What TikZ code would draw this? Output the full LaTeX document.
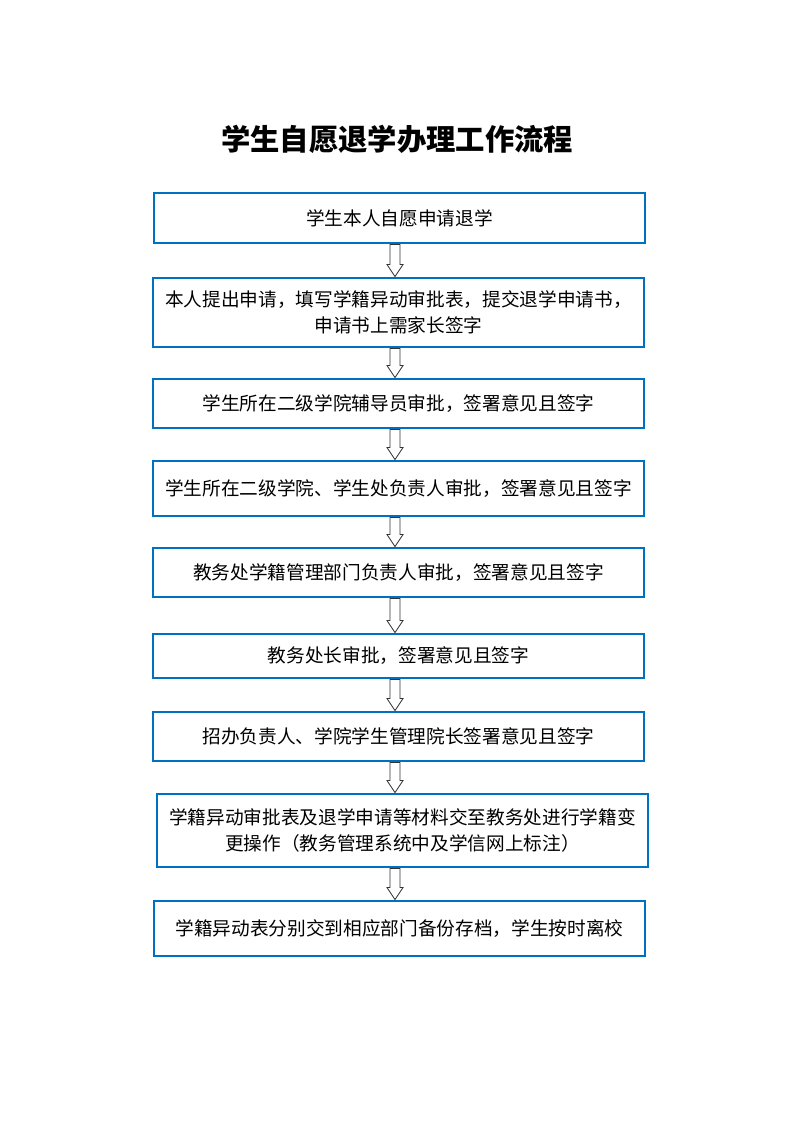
\documentclass[tikz,border=0pt]{standalone}
\usepackage{fontspec}
\newfontfamily\cjk{Noto Sans CJK SC}
\usetikzlibrary{calc}
\definecolor{bx}{RGB}{0,112,192}
\newcommand{\harr}[2]{%
\path let \p1=(#1.south), \p2=(#2.north), \p3=(395*0.75pt,0) in
 [draw=black!80, fill=white, line width=0.6pt]
 (\x3-3.75pt,\y1) -- (\x3+3.75pt,\y1) -- (\x3+3.75pt,\y2+9pt) -- (\x3+6pt,\y2+9pt)
 -- (\x3,\y2) -- (\x3-6pt,\y2+9pt) -- (\x3-3.75pt,\y2+9pt) -- cycle;}
\begin{document}
\begin{tikzpicture}[x=0.75pt,y=-0.75pt,
 bx/.style={draw=bx,line width=2.2pt,align=center,font=\cjk\fontsize{14}{19.5}\selectfont,inner sep=0pt}]
\useasboundingbox (0,0) rectangle (793,1122);
\node[font=\cjk\bfseries\fontsize{22}{26}\selectfont] (t) at (397,139) {学生自愿退学办理工作流程};
\newcommand{\bx}[6]{\node[bx,minimum width={(#3-#2)*0.75pt},minimum height={(#5-#4)*0.75pt}] (#1) at ({(#2+#3)/2},{(#4+#5)/2}) {#6};}
\bx{b1}{154}{645}{193}{243}{学生本人自愿申请退学}
\bx{b2}{153}{644}{278}{347}{本人提出申请，填写学籍异动审批表，提交退学申请书，\\申请书上需家长签字}
\bx{b3}{153}{644}{379}{428}{学生所在二级学院辅导员审批，签署意见且签字}
\bx{b4}{153}{644}{461}{516}{学生所在二级学院、学生处负责人审批，签署意见且签字}
\bx{b5}{153}{644}{548}{597}{教务处学籍管理部门负责人审批，签署意见且签字}
\bx{b6}{153}{644}{634}{678}{教务处长审批，签署意见且签字}
\bx{b7}{153}{644}{712}{761}{招办负责人、学院学生管理院长签署意见且签字}
\bx{b8}{157}{648}{794}{867}{学籍异动审批表及退学申请等材料交至教务处进行学籍变\\更操作（教务管理系统中及学信网上标注）}
\bx{b9}{154}{645}{901}{956}{学籍异动表分别交到相应部门备份存档，学生按时离校}
\foreach \a/\b in {b1/b2,b2/b3,b3/b4,b4/b5,b5/b6,b6/b7,b7/b8,b8/b9}{\harr{\a}{\b}}
\end{tikzpicture}
\end{document}
